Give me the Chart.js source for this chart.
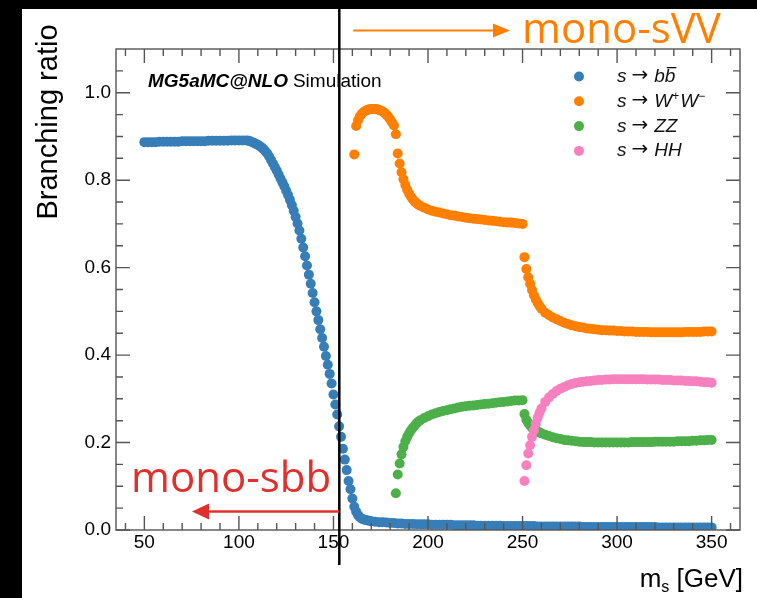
<!DOCTYPE html>
<html lang="en">
<head>
<meta charset="UTF-8">
<title>Branching ratio of s</title>
<style>
  html, body { margin: 0; padding: 0; background: #fff; }
  canvas { display: block; }
</style>
</head>
<body>
<canvas id="brChart" width="757" height="598"></canvas>

<script src="https://cdn.jsdelivr.net/npm/chart.js"></script>
<script>
// masses (GeV) shared by the heavy channels
const massMid = [198,200,202,204,206,208,210,212,214,216,218,220,222,224,226,228,230,232,234,236,238,240,242,244,246,248,250];
const massThreshHH = [251,252,253,254,255,256,257,258,259,260];
const massHigh = [262,264,266,268,270,272,274,276,278,280,282,284,286,288,290,292,294,296,298,300,
  302,304,306,308,310,312,314,316,318,320,322,324,326,328,330,332,334,336,338,340,342,344,346,348,350];

// s -> b bbar
const massBB = [50,52,54,56,58,60,62,64,66,68,70,72,74,76,78,80,82,84,86,88,90,92,94,96,98,100,102,104,
  105,106,107,108,109,110,111,112,113,114,115,116,117,118,119,120,121,122,123,124,125,126,127,128,129,130,
  131,132,133,134,135,136,137,138,139,140,141,142,143,144,145,146,147,148,149,150,151,152,153,154,155,156,
  157,158,159,160,161,162,163,164,165,166,167,168,169,170,
  172,174,176,178,180,182,184,186,188,190,192,194,196,198,200,202,204,206,208,210,212,214,216,218,220,
  222,224,226,228,230,232,234,236,238,240,242,244,246,248,250,252,254,256,258,260,262,264,266,268,270,
  272,274,276,278,280,282,284,286,288,290,292,294,296,298,300,302,304,306,308,310,312,314,316,318,320,
  322,324,326,328,330,332,334,336,338,340,342,344,346,348,350];
const brBB = [0.887,0.887,0.887,0.887,0.888,0.888,0.888,0.888,0.888,0.888,0.889,0.889,0.889,0.889,0.889,0.889,0.889,0.890,0.890,0.890,0.890,0.890,0.890,0.891,0.891,0.891,0.891,0.891,
  0.890,0.889,0.887,0.885,0.883,0.881,0.878,0.875,0.871,0.866,
  0.861,0.854,0.846,0.838,0.830,0.822,0.813,0.804,0.795,0.786,
  0.776,0.766,0.755,0.743,0.730,0.716,0.701,0.685,0.666,0.646,
  0.626,0.605,0.584,0.563,0.542,0.521,0.500,0.480,0.459,0.439,
  0.419,0.398,0.378,0.357,0.335,0.310,0.287,0.264,0.237,0.213,
  0.186,0.161,0.137,0.112,0.093,0.072,0.053,0.042,0.034,0.029,
  0.026,0.024,0.023,0.022,0.021,0.020,
  0.019,0.018,0.018,0.017,0.016,0.016,0.015,0.015,0.014,0.014,
  0.014,0.013,0.013,0.013,0.013,0.012,0.012,0.012,0.012,0.012,
  0.012,0.011,0.011,0.011,0.011,0.011,0.011,0.010,0.010,0.010,
  0.010,0.010,0.010,0.010,0.009,0.009,0.009,0.009,0.009,0.009,
  0.009,0.009,0.009,0.008,0.008,0.008,0.008,0.008,0.008,0.008,
  0.008,0.008,0.008,0.008,0.008,0.007,0.007,0.007,0.007,0.007,
  0.007,0.007,0.007,0.007,0.007,0.007,0.007,0.007,0.007,0.007,
  0.007,0.007,0.007,0.007,0.007,0.006,0.006,0.006,0.006,0.006,
  0.006,0.006,0.006,0.006,0.006,0.006,0.006,0.006,0.006,0.006];

// s -> W+ W-
const massWW = [161,162,163,164,165,166,167,168,169,170,171,172,173,174,175,176,177,178,179,180,
  181,182,183,184,185,186,187,188,189,190,191,192,193,194,195,196,
  ...massMid, ...massThreshHH, ...massHigh];
const brWW = [0.859,0.924,0.937,0.946,0.952,0.956,0.959,0.961,0.962,0.963,
  0.963,0.963,0.962,0.961,0.959,0.957,0.954,0.950,0.945,0.939,
  0.932,0.925,0.905,0.861,0.838,0.818,0.802,0.789,0.778,0.769,
  0.762,0.756,0.751,0.747,0.744,0.741,
  0.737,0.733,0.730,0.728,0.726,0.724,0.722,0.720,0.719,0.717,
  0.716,0.714,0.713,0.712,0.711,0.710,0.709,0.708,0.707,0.706,
  0.705,0.704,0.703,0.703,0.702,0.701,0.700,
  0.624,0.597,0.578,0.563,0.549,0.537,0.527,0.519,0.512,0.506,
  0.497,0.491,0.486,0.482,0.478,0.474,0.471,0.468,0.466,0.464,
  0.463,0.461,0.460,0.459,0.458,0.457,0.457,0.456,0.456,0.455,
  0.455,0.454,0.454,0.454,0.453,0.453,0.453,0.453,0.452,0.452,
  0.452,0.452,0.452,0.452,0.452,0.452,0.452,0.453,0.453,0.453,
  0.453,0.453,0.454,0.454,0.454];

// s -> Z Z
const massZZ = [183,184,185,186,187,188,189,190,191,192,193,194,195,196,
  ...massMid, ...massThreshHH, ...massHigh];
const brZZ = [0.084,0.127,0.152,0.173,0.190,0.203,0.213,0.221,0.228,0.234,0.239,0.244,0.248,0.251,
  0.256,0.260,0.264,0.267,0.270,0.272,0.274,0.276,0.278,0.280,
  0.282,0.283,0.284,0.285,0.286,0.287,0.288,0.289,0.290,0.291,
  0.292,0.293,0.294,0.295,0.296,0.296,0.297,
  0.265,0.252,0.245,0.239,0.234,0.230,0.227,0.225,0.223,0.221,
  0.218,0.215,0.212,0.210,0.208,0.206,0.205,0.204,0.203,0.202,
  0.201,0.201,0.201,0.200,0.200,0.200,0.200,0.200,0.200,0.200,
  0.200,0.200,0.200,0.201,0.201,0.201,0.201,0.201,0.201,0.202,
  0.202,0.202,0.202,0.202,0.202,0.203,0.203,0.203,0.203,0.204,
  0.204,0.205,0.205,0.206,0.206];

// s -> H H
const massHH = [...massThreshHH, ...massHigh];
const brHH = [0.112,0.148,0.175,0.194,0.213,0.228,0.243,0.257,0.268,0.278,
  0.293,0.303,0.311,0.318,0.323,0.327,0.331,0.334,0.336,0.338,
  0.339,0.340,0.341,0.342,0.343,0.343,0.344,0.344,0.345,0.345,
  0.345,0.345,0.345,0.345,0.345,0.345,0.345,0.344,0.344,0.344,
  0.344,0.343,0.343,0.343,0.342,0.342,0.342,0.341,0.341,0.340,
  0.340,0.339,0.338,0.338,0.337];

const xTickValues = [50, 100, 150, 200, 250, 300, 350];
const yTickValues = [0, 0.2, 0.4, 0.6, 0.8, 1.0];
const cutMass = 153.1;   // the black split line

const FONT = "'Liberation Sans', Arial, Helvetica, sans-serif";
const SLIDE_FONT = "'Open Sans', 'Noto Sans', sans-serif";

// legend: each label is a list of text runs
const legendRows = [
  [{t: 's', it: 1}, {arrow: 1}, {t: 'b', it: 1}, {t: 'b', it: 1, bar: 1}],
  [{t: 's', it: 1}, {arrow: 1}, {t: 'W', it: 1}, {t: '+', sup: 1}, {t: 'W', it: 1}, {t: '\u2212', sup: 1}],
  [{t: 's', it: 1}, {arrow: 1}, {t: 'ZZ', it: 1}],
  [{t: 's', it: 1}, {arrow: 1}, {t: 'HH', it: 1}]
];

function pts(xs, ys) {
  return xs.map((m, i) => ({x: m, y: ys[i]}));
}

function arrowLine(c, x0, x1, y, col, head, half, lw) {
  const dir = Math.sign(x1 - x0);
  c.strokeStyle = col;
  c.fillStyle = col;
  c.lineWidth = lw;
  c.beginPath();
  c.moveTo(x0, y);
  c.lineTo(x1 - dir * head, y);
  c.stroke();
  c.beginPath();
  c.moveTo(x1, y);
  c.lineTo(x1 - dir * head, y - half);
  c.lineTo(x1 - dir * head, y + half);
  c.closePath();
  c.fill();
}

function drawRuns(c, x, y, runs) {
  for (const r of runs) {
    if (r.arrow) {
      c.font = "20px 'DejaVu Sans', sans-serif";
      x += 5;
      c.fillText('\u2192', x, y - 1);
      x += c.measureText('\u2192').width + 6;
      continue;
    }
    c.font = r.sup ? '12px ' + FONT : (r.it ? 'italic ' : '') + '19px ' + FONT;
    const w = c.measureText(r.t).width;
    c.fillText(r.t, x, r.sup ? y - 7 : y);
    if (r.bar) c.fillRect(x + 2, y - 15, w - 1, 1.3);
    x += w + (r.sup ? 1 : 0);
  }
}

const decor = {
  id: 'decor',
  beforeDraw(chart) {
    const c = chart.ctx;
    c.save();
    c.fillStyle = '#000';
    c.fillRect(0, 0, chart.width, chart.height);
    c.fillStyle = '#fff';
    c.fillRect(22, 9, chart.width - 22, chart.height - 9);
    c.restore();
  },
  afterDraw(chart) {
    const c = chart.ctx;
    const a = chart.chartArea;
    const xs = chart.scales.x, ys = chart.scales.y;
    c.save();

    // frame + inward ticks on all four sides
    c.strokeStyle = '#555';
    c.lineWidth = 1.4;
    c.strokeRect(a.left, a.top, a.right - a.left, a.bottom - a.top);
    c.beginPath();
    for (let v = 40; v <= 360; v += 10) {
      const px = xs.getPixelForValue(v);
      const len = v % 50 === 0 ? 14 : 7;
      c.moveTo(px, a.bottom); c.lineTo(px, a.bottom - len);
      c.moveTo(px, a.top); c.lineTo(px, a.top + len);
    }
    for (let k = 0; k <= 21; k++) {
      const py = ys.getPixelForValue(k * 0.05);
      const len = k % 4 === 0 ? 14 : 7;
      c.moveTo(a.left, py); c.lineTo(a.left + len, py);
      c.moveTo(a.right, py); c.lineTo(a.right - len, py);
    }
    c.stroke();

    // split line and arrows
    const lx = xs.getPixelForValue(cutMass);
    c.strokeStyle = '#000';
    c.lineWidth = 2.5;
    c.beginPath();
    c.moveTo(lx, 9);
    c.lineTo(lx, a.bottom + 35);
    c.stroke();
    arrowLine(c, lx + 14, 510, 30.5, '#ff7f00', 17, 7, 2.2);
    arrowLine(c, lx, 192, 511.5, '#e0302e', 17, 8, 2.5);

    c.textBaseline = 'alphabetic';
    c.textAlign = 'left';
    c.font = '42px ' + SLIDE_FONT;
    c.fillStyle = '#ff7f00';
    c.fillText('mono-sVV', 522, 43);
    c.fillStyle = '#e0302e';
    c.fillText('mono-sbb', 131, 492);

    // experiment label
    c.fillStyle = '#000';
    c.font = 'italic bold 19px ' + FONT;
    c.fillText('MG5aMC@NLO', 148, 87);
    const w0 = c.measureText('MG5aMC@NLO').width;
    c.font = '19px ' + FONT;
    c.fillText('Simulation', 148 + w0 + 5, 87);

    // legend
    chart.data.datasets.forEach((ds, i) => {
      const cy = 76.5 + 24.8 * i;
      c.fillStyle = ds.backgroundColor;
      c.beginPath();
      c.arc(579, cy, 5, 0, Math.PI * 2);
      c.fill();
      c.fillStyle = '#111';
      drawRuns(c, 617, cy + 5.5, legendRows[i]);
    });

    // axis titles
    c.fillStyle = '#000';
    c.font = '29px ' + FONT;
    c.save();
    c.translate(57, 122);
    c.rotate(-Math.PI / 2);
    c.textAlign = 'center';
    c.fillText('Branching ratio', 0, 0);
    c.restore();

    c.font = '26px ' + FONT;
    const wm = c.measureText('m').width;
    const wr = c.measureText(' [GeV]').width;
    c.font = '16px ' + FONT;
    const ws = c.measureText('s').width;
    let tx = 743 - (wm + ws + wr);
    c.font = '26px ' + FONT;
    c.fillText('m', tx, 587);
    tx += wm;
    c.font = '16px ' + FONT;
    c.fillText('s', tx, 592);
    tx += ws;
    c.font = '26px ' + FONT;
    c.fillText(' [GeV]', tx, 587);

    c.restore();
  }
};

const ctx = document.getElementById('brChart').getContext('2d');
const chart = new Chart(ctx, {
  type: 'scatter',
  data: {
    datasets: [
      {label: 's -> bb', data: pts(massBB, brBB), backgroundColor: '#377eb8', order: 3},
      {label: 's -> WW', data: pts(massWW, brWW), backgroundColor: '#ff7f00', order: 2},
      {label: 's -> ZZ', data: pts(massZZ, brZZ), backgroundColor: '#4daf4a', order: 1},
      {label: 's -> HH', data: pts(massHH, brHH), backgroundColor: '#f781bf', order: 0}
    ]
  },
  options: {
    responsive: false,
    devicePixelRatio: 1,
    animation: false,
    layout: {padding: {left: 0, top: 49, right: 17, bottom: 0}},
    elements: {point: {radius: 5, hoverRadius: 5, borderWidth: 0}},
    plugins: {legend: {display: false}, tooltip: {enabled: false}},
    scales: {
      x: {
        type: 'linear',
        min: 35,
        max: 365,
        afterFit: (s) => { s.height = 68; },
        afterBuildTicks: (s) => { s.ticks = xTickValues.map(v => ({value: v})); },
        grid: {display: false, drawTicks: false},
        border: {display: false},
        ticks: {font: {family: FONT, size: 19}, color: '#000', padding: 1, autoSkip: false, maxRotation: 0}
      },
      y: {
        min: 0,
        max: 1.1,
        afterFit: (s) => { s.width = 116; },
        afterBuildTicks: (s) => { s.ticks = yTickValues.map(v => ({value: v})); },
        grid: {display: false, drawTicks: false},
        border: {display: false},
        ticks: {font: {family: FONT, size: 19}, color: '#000', padding: 5, autoSkip: false,
          callback: (v) => Number(v).toFixed(1)}
      }
    }
  },
  plugins: [decor]
});
</script>
</body>
</html>
